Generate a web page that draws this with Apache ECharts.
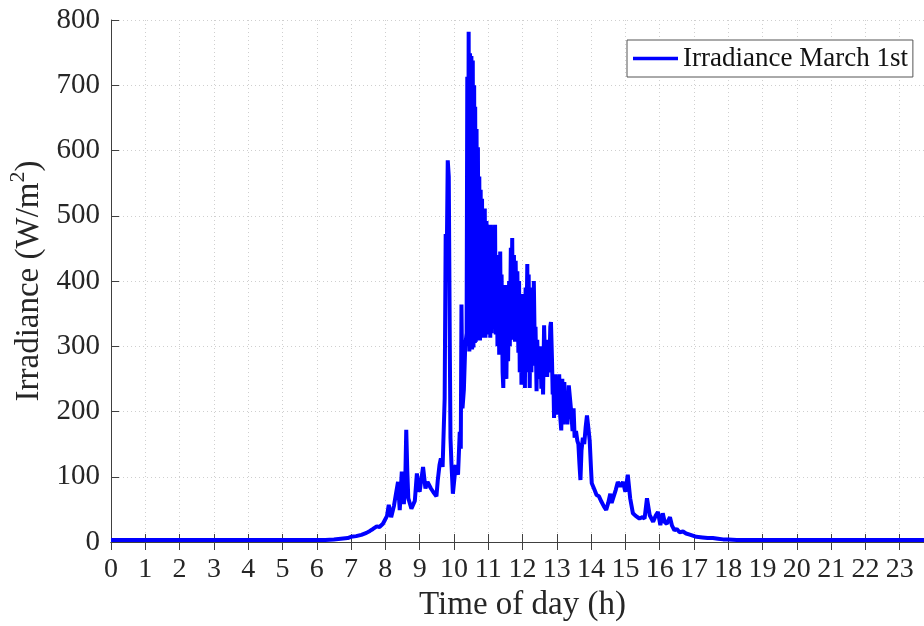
<!DOCTYPE html>
<html>
<head>
<meta charset="utf-8">
<script src="https://cdn.jsdelivr.net/npm/echarts@6/dist/echarts.min.js"></script>
<style>
  html, body { margin: 0; padding: 0; background: #fff; }
  #chart { width: 924px; height: 626px; }
</style>
</head>
<body>
<div id="chart"></div>
<script>
// time of day (h) and irradiance (W/m2), 10 per row
const hours = [
  0, 0.25, 0.5, 0.75, 1, 1.25, 1.5, 1.75, 2, 2.25,
  2.5, 2.75, 3, 3.25, 3.5, 3.75, 4, 4.25, 4.5, 4.75,
  5, 5.25, 5.5, 5.75, 6, 6.25, 6.5, 6.7, 6.9, 7.0,
  7.15, 7.3, 7.45, 7.55, 7.64, 7.75, 7.83, 7.93, 7.98, 8.05,
  8.1, 8.17, 8.25, 8.32, 8.37, 8.42, 8.48, 8.54, 8.58, 8.61,
  8.64, 8.67, 8.76, 8.86, 8.92, 8.96, 9.0, 9.1, 9.17, 9.23,
  9.33, 9.42, 9.49, 9.53, 9.58, 9.62, 9.67, 9.73, 9.76, 9.79,
  9.82, 9.85, 9.88, 9.9, 9.93, 9.97, 10.01, 10.05, 10.12, 10.17,
  10.2, 10.22, 10.25, 10.29, 10.33, 10.37, 10.39, 10.41, 10.43, 10.45,
  10.47, 10.49, 10.51, 10.53, 10.55, 10.57, 10.59, 10.61, 10.62, 10.64,
  10.66, 10.68, 10.7, 10.72, 10.74, 10.76, 10.78, 10.8, 10.82, 10.84,
  10.86, 10.88, 10.9, 10.92, 10.95, 10.97, 11.0, 11.02, 11.04, 11.06,
  11.08, 11.1, 11.13, 11.15, 11.17, 11.2, 11.22, 11.25, 11.27, 11.3,
  11.32, 11.35, 11.37, 11.39, 11.42, 11.44, 11.47, 11.49, 11.51, 11.53,
  11.56, 11.58, 11.61, 11.63, 11.66, 11.68, 11.7, 11.72, 11.75, 11.78,
  11.8, 11.83, 11.85, 11.88, 11.9, 11.92, 11.95, 11.97, 12.0, 12.02,
  12.05, 12.07, 12.09, 12.11, 12.14, 12.16, 12.18, 12.21, 12.23, 12.26,
  12.28, 12.31, 12.33, 12.36, 12.38, 12.41, 12.43, 12.46, 12.48, 12.5,
  12.52, 12.55, 12.58, 12.6, 12.63, 12.66, 12.69, 12.72, 12.75, 12.78,
  12.81, 12.83, 12.86, 12.88, 12.9, 12.92, 12.95, 12.98, 13.01, 13.04,
  13.07, 13.1, 13.13, 13.16, 13.19, 13.22, 13.25, 13.28, 13.31, 13.35,
  13.38, 13.42, 13.46, 13.49, 13.52, 13.56, 13.6, 13.63, 13.66, 13.69,
  13.72, 13.76, 13.8, 13.84, 13.88, 13.92, 13.96, 14.0, 14.02, 14.06,
  14.1, 14.16, 14.23, 14.3, 14.37, 14.44, 14.5, 14.56, 14.6, 14.65,
  14.72, 14.78, 14.85, 14.93, 15.0, 15.07, 15.14, 15.22, 15.3, 15.41,
  15.5, 15.56, 15.63, 15.71, 15.81, 15.88, 15.95, 16.02, 16.09, 16.15,
  16.21, 16.3, 16.36, 16.43, 16.5, 16.58, 16.68, 16.77, 16.9, 17.07,
  17.25, 17.4, 17.55, 17.7, 17.85, 18.0, 18.25, 18.5, 18.75, 19,
  19.25, 19.5, 19.75, 20, 20.25, 20.5, 20.75, 21, 21.25, 21.5,
  21.75, 22, 22.25, 22.5, 22.75, 23, 23.25, 23.5, 23.75, 24
];
const irradiance = [
  3, 3, 3, 3, 3, 3, 3, 3, 3, 3,
  3, 3, 3, 3, 3, 3, 3, 3, 3, 3,
  3, 3, 3, 3, 3, 3, 4, 5, 6, 8,
  9, 11, 14, 17, 20, 24, 23, 28, 33, 40,
  57, 38, 55, 77, 92, 49, 108, 58, 90, 172,
  110, 67, 51, 63, 105, 85, 77, 115, 82, 92,
  82, 75, 70, 95, 118, 128, 115, 220, 472, 430,
  585, 560, 300, 159, 118, 74, 95, 118, 103, 169,
  143, 364, 205, 233, 300, 320, 713, 305, 782, 292,
  749, 300, 745, 295, 738, 298, 700, 305, 667, 307,
  633, 310, 605, 320, 560, 309, 540, 330, 526, 313,
  503, 330, 511, 313, 492, 318, 486, 330, 467, 313,
  486, 320, 471, 330, 451, 486, 318, 440, 300, 420,
  287, 445, 300, 410, 260, 236, 394, 280, 374, 250,
  394, 277, 400, 300, 451, 330, 466, 310, 440, 307,
  431, 320, 415, 290, 400, 260, 340, 241, 380, 300,
  338, 236, 390, 300, 426, 260, 410, 236, 350, 260,
  390, 270, 400, 287, 330, 231, 310, 250, 297, 256,
  300, 235, 292, 226, 332, 270, 300, 253, 310, 260,
  330, 337, 280, 226, 250, 190, 257, 195, 250, 200,
  257, 192, 171, 250, 180, 245, 185, 225, 180, 240,
  238, 200, 170, 205, 160, 170, 155, 150, 120, 95,
  140, 160, 150, 175, 194, 175, 155, 110, 90, 85,
  80, 72, 70, 62, 55, 49, 60, 74, 60, 62,
  80, 92, 85, 92, 77, 103, 67, 44, 40, 36,
  38, 36, 67, 41, 31, 40, 46, 26, 44, 30,
  28, 38, 25, 18, 20, 15, 16, 13, 11, 8,
  7, 6, 6, 5, 4, 4, 3, 3, 3, 3,
  3, 3, 3, 3, 3, 3, 3, 3, 3, 3,
  3, 3, 3, 3, 3, 3, 3, 3, 3, 3
];
const yTicks = [0, 100, 200, 300, 400, 500, 600, 700, 800];

const serif = "'Liberation Serif', 'Times New Roman', serif";
const ink = '#262626';
const axisGray = '#404040';

const chart = echarts.init(document.getElementById('chart'));
const points = hours.map((h, i) => [h, irradiance[i]]);

chart.setOption({
  animation: false,
  backgroundColor: '#fff',
  textStyle: { fontFamily: serif, color: ink },
  grid: { left: 111, right: -10, top: 20, bottom: 84, containLabel: false, outerBoundsMode: 'none' },
  legend: {
    data: ['Irradiance March 1st'],
    left: 627, top: 40,
    padding: [5, 5, 5, 6],
    icon: 'rect', itemWidth: 45, itemHeight: 3.5, itemGap: 0, itemTextGap: 5,
    borderColor: '#555', borderWidth: 1, backgroundColor: '#fff',
    textStyle: { fontFamily: serif, fontSize: 27, color: '#111' }
  },
  xAxis: [{
    type: 'value', min: 0, max: 24, interval: 1,
    name: 'Time of day (h)', nameLocation: 'middle', nameGap: 35,
    nameTextStyle: { fontFamily: serif, fontSize: 33, color: ink },
    axisLine: { show: true, onZero: false, lineStyle: { color: axisGray, width: 1 } },
    axisTick: { inside: true, length: 8, lineStyle: { color: axisGray } },
    axisLabel: { margin: 14, fontFamily: serif, fontSize: 28, color: ink,
      formatter: v => (v >= 24 ? '' : String(v)) },
    splitLine: { show: true, lineStyle: { color: '#cfcfcf', type: [1, 3], width: 1 } }
  }, {
    type: 'value', position: 'top', min: 0, max: 24, interval: 1,
    axisLine: { show: true, lineStyle: { color: axisGray, width: 1 } },
    axisTick: { inside: true, length: 8, lineStyle: { color: axisGray } },
    axisLabel: { show: false },
    splitLine: { show: false }
  }],
  yAxis: {
    type: 'value', min: yTicks[0], max: yTicks[yTicks.length - 1], interval: 100,
    name: '{a|Irradiance (W/m}{s|2}{a|)}', nameLocation: 'middle', nameGap: 65,
    nameTextStyle: {
      rich: {
        a: { fontFamily: serif, fontSize: 33, color: ink, lineHeight: 38, verticalAlign: 'bottom' },
        s: { fontFamily: serif, fontSize: 22, color: ink, lineHeight: 38, verticalAlign: 'top' }
      }
    },
    axisLine: { show: true, lineStyle: { color: axisGray, width: 1 } },
    axisTick: { inside: true, length: 8, lineStyle: { color: axisGray } },
    axisLabel: { margin: 11, fontFamily: serif, fontSize: 29, color: ink },
    splitLine: { show: true, lineStyle: { color: '#cfcfcf', type: [1, 3], width: 1 } }
  },
  series: [{
    name: 'Irradiance March 1st',
    type: 'line',
    data: points,
    showSymbol: false,
    symbol: 'none',
    lineStyle: { color: '#0000ff', width: 4 },
    itemStyle: { color: '#0000ff' },
    z: 3
  }]
});
</script>
</body>
</html>
